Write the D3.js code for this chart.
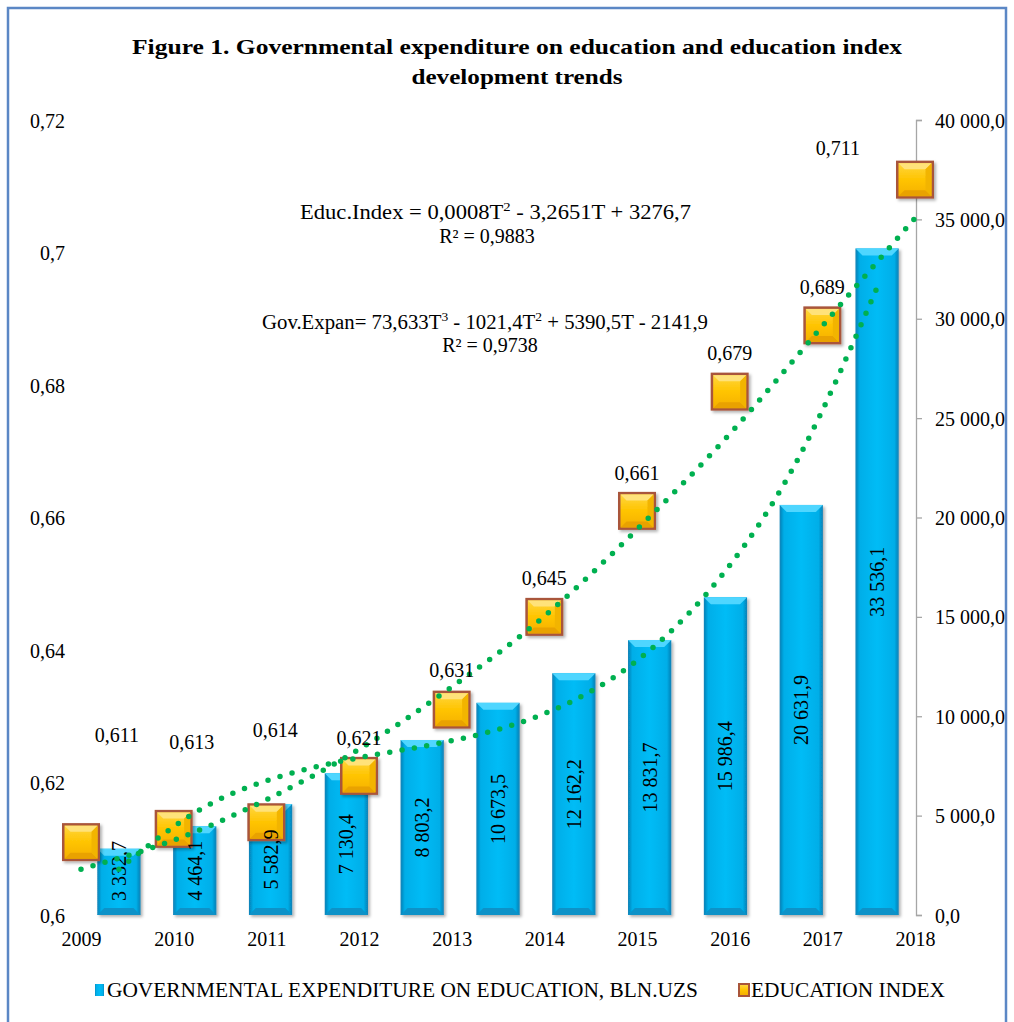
<!DOCTYPE html>
<html>
<head>
<meta charset="utf-8">
<script src="https://cdn.jsdelivr.net/npm/d3@7"></script>
<style>
  body { margin: 0; background: #fff; }
  svg text { font-family: "Liberation Serif", "Times New Roman", serif; fill: #000; }
</style>
</head>
<body>
<svg id="chart" width="1014" height="1022"></svg>
<script>
// === Data ===
const years = [2009, 2010, 2011, 2012, 2013, 2014, 2015, 2016, 2017, 2018];
const educationIndex = [0.611, 0.613, 0.614, 0.621, 0.631, 0.645, 0.661, 0.679, 0.689, 0.711];
// trend line of the index at each year
const indexTrend = [0.6069, 0.6113, 0.6174, 0.6250, 0.6344, 0.6451, 0.6582, 0.6726, 0.6889, 0.7052];

const expPeriods = [1, 2, 3, 4, 5, 6, 7, 8, 9, 10, 11];
const expenditure = [3332.7, 4464.1, 5582.9, 7130.4, 8803.2, 10673.5, 12162.2, 13831.7, 15986.4, 20631.9, 33536.1];
// cubic trend of expenditure (Gov.Expan equation) at each period T
const expTrend = [2300.8, 5142.6, 6825.1, 7790.2, 8479.7, 9335.4, 10799.1, 13312.6, 17317.7, 23256.1, 31569.7];

const leftTicks = [0.6, 0.62, 0.64, 0.66, 0.68, 0.7, 0.72];
const rightTicks = [0, 5000, 10000, 15000, 20000, 25000, 30000, 35000, 40000];

const titleLines = ["Figure 1. Governmental expenditure on education and education index", "development trends"];
const legendLabels = ["GOVERNMENTAL EXPENDITURE ON EDUCATION, BLN.UZS", "EDUCATION INDEX"];

// label nudges (layout only): [dx, dy] from marker centre
const indexLabelNudge = [[36, -107], [18, -87], [9, -92], [0, -38], [0, -40], [0, -39], [0, -38], [0, -39], [0, -38], [-77, -32]];

(function () {
  const svg = d3.select("#chart");
  const serif = '"Liberation Serif", "Times New Roman", serif';
  const plot = { left: 81, right: 915, top: 120, bottom: 915 };

  const loc = d3.formatLocale({ decimal: ",", thousands: " ", grouping: [3], currency: ["", ""] });
  const fmtMoney = loc.format(",.1f");
  const fmtIdx = loc.format(".3f");
  const fmtLeft = loc.format(".2~f");

  const x = d3.scalePoint().domain(years).range([plot.left, plot.right]);
  const xb = d3.scaleBand().domain(expPeriods).range([plot.left, plot.right])
    .paddingInner(0.43).paddingOuter(0.215);
  const yL = d3.scaleLinear().domain([0.6, 0.72]).range([plot.bottom, plot.top]);
  const yR = d3.scaleLinear().domain([0, 40000]).range([plot.bottom, plot.top]);

  // === defs ===
  const defs = svg.append("defs");
  const barGrad = defs.append("linearGradient").attr("id", "barGrad").attr("x1", 0).attr("x2", 1).attr("y1", 0).attr("y2", 0);
  [[0, "#0a7fb4"], [0.1, "#00aee8"], [0.5, "#00bcf6"], [0.9, "#00aee8"], [1, "#0a7fb4"]]
    .forEach(([o, c]) => barGrad.append("stop").attr("offset", o).attr("stop-color", c));
  const goldGrad = defs.append("linearGradient").attr("id", "goldGrad").attr("x1", 0).attr("x2", 0).attr("y1", 0).attr("y2", 1);
  [[0, "#ffd640"], [0.5, "#ffc400"], [1, "#f5b000"]]
    .forEach(([o, c]) => goldGrad.append("stop").attr("offset", o).attr("stop-color", c));
  const shadow = defs.append("filter").attr("id", "shadow").attr("x", "-20%").attr("y", "-20%").attr("width", "150%").attr("height", "150%");
  shadow.append("feDropShadow").attr("dx", 2).attr("dy", 2).attr("stdDeviation", 1.6)
    .attr("flood-color", "#000").attr("flood-opacity", 0.3);

  // === frame ===
  svg.append("rect").attr("x", 8).attr("y", 8).attr("width", 998).attr("height", 1040)
    .attr("fill", "none").attr("stroke", "#5b87c5").attr("stroke-width", 2.5);

  // === title ===
  svg.append("text").attr("x", 517).attr("y", 54).attr("text-anchor", "middle")
    .attr("font-size", 22).attr("font-weight", "bold")
    .attr("textLength", 770).attr("lengthAdjust", "spacingAndGlyphs").text(titleLines[0]);
  svg.append("text").attr("x", 517).attr("y", 84).attr("text-anchor", "middle")
    .attr("font-size", 22).attr("font-weight", "bold")
    .attr("textLength", 211).attr("lengthAdjust", "spacingAndGlyphs").text(titleLines[1]);

  // === axes ===
  const gL = svg.append("g").attr("transform", `translate(${plot.left},0)`)
    .call(d3.axisLeft(yL).tickValues(leftTicks).tickFormat(fmtLeft).tickSize(0).tickPadding(16))
    .attr("font-family", serif).attr("font-size", 20);
  gL.select(".domain").remove();
  gL.selectAll("text").attr("dy", "0.35em");

  const gR = svg.append("g").attr("transform", `translate(916,0)`)
    .call(d3.axisRight(yR).tickValues(rightTicks).tickFormat(fmtMoney).tickSize(6).tickSizeOuter(6).tickPadding(13))
    .attr("font-family", serif).attr("font-size", 20);
  gR.select(".domain").attr("stroke", "#a6a6a6").attr("stroke-width", 1.3);
  gR.selectAll(".tick line").attr("stroke", "#a6a6a6").attr("stroke-width", 1.3);
  gR.selectAll("text").attr("dy", "0.35em");

  const gX = svg.append("g").attr("transform", `translate(0,${plot.bottom})`)
    .call(d3.axisBottom(x).tickSize(0).tickPadding(17))
    .attr("font-family", serif).attr("font-size", 20);
  gX.select(".domain").remove();

  // === bars ===
  const bw = xb.bandwidth();
  const bev = 7;
  const bars = svg.append("g").selectAll("g").data(expenditure).join("g")
    .attr("filter", "url(#shadow)");
  bars.append("rect")
    .attr("x", (d, i) => xb(expPeriods[i]))
    .attr("y", d => yR(d))
    .attr("width", bw)
    .attr("height", d => yR(0) - yR(d))
    .attr("fill", "url(#barGrad)");
  bars.append("polygon")
    .attr("points", (d, i) => {
      const x0 = xb(expPeriods[i]), x1 = x0 + bw, t = yR(d);
      return [[x0, t], [x1, t], [x1 - bev, t + bev], [x0 + bev, t + bev]].join(" ");
    })
    .attr("fill", "#4fd6ff");
  bars.append("polygon")
    .attr("points", (d, i) => {
      const x0 = xb(expPeriods[i]), x1 = x0 + bw, b = yR(0);
      return [[x0, b], [x1, b], [x1 - bev, b - bev], [x0 + bev, b - bev]].join(" ");
    })
    .attr("fill", "#0a92c8");

  // === education index markers ===
  const m = 19, mb = 6;
  const markers = svg.append("g").selectAll("g").data(educationIndex).join("g")
    .attr("transform", (d, i) => `translate(${x(years[i])},${yL(d)})`)
    .attr("filter", "url(#shadow)");
  markers.append("rect").attr("x", -m).attr("y", -m).attr("width", 2 * m).attr("height", 2 * m)
    .attr("fill", "#a9553a");
  const inner = m - 2.5;
  markers.append("rect").attr("x", -inner).attr("y", -inner).attr("width", 2 * inner).attr("height", 2 * inner)
    .attr("fill", "url(#goldGrad)");
  markers.append("polygon")
    .attr("points", [[-inner, -inner], [inner, -inner], [inner - mb, -inner + mb], [-inner + mb, -inner + mb]].join(" "))
    .attr("fill", "#ffe27a");
  markers.append("polygon")
    .attr("points", [[-inner, inner], [inner, inner], [inner - mb, inner - mb], [-inner + mb, inner - mb]].join(" "))
    .attr("fill", "#e9a200");
  markers.append("polygon")
    .attr("points", [[inner, -inner], [inner, inner], [inner - mb, inner - mb], [inner - mb, -inner + mb]].join(" "))
    .attr("fill", "#f2b400");

  // bar value labels (rotated), drawn over the markers
  const barLabels = svg.append("g");
  expenditure.forEach((v, i) => {
    const cx = xb(expPeriods[i]) + bw / 2;
    const t = barLabels.append("text")
      .attr("font-size", 20)
      .attr("text-anchor", "middle")
      .attr("dominant-baseline", "central")
      .text(fmtMoney(v));
    const len = t.node().getComputedTextLength();
    const cy = Math.min((yR(v) + yR(0)) / 2, yR(0) - 14 - len / 2);
    t.attr("transform", `translate(${cx},${cy}) rotate(-90)`);
  });

  // === trend lines ===
  const dotStyle = sel => sel.attr("fill", "none").attr("stroke", "#00b050").attr("stroke-width", 5.5)
    .attr("stroke-linecap", "round").attr("stroke-dasharray", "0 12.5");
  svg.append("path")
    .datum(indexTrend)
    .attr("d", d3.line().x((d, i) => x(years[i])).y(d => yL(d)).curve(d3.curveNatural))
    .call(dotStyle);
  svg.append("path")
    .datum(expTrend)
    .attr("d", d3.line().x((d, i) => xb(expPeriods[i]) + bw / 2).y(d => yR(d)).curve(d3.curveNatural))
    .call(dotStyle);

  // index value labels
  svg.append("g").selectAll("text").data(educationIndex).join("text")
    .attr("x", (d, i) => x(years[i]) + indexLabelNudge[i][0])
    .attr("y", (d, i) => yL(d) + indexLabelNudge[i][1])
    .attr("dy", "0.35em")
    .attr("text-anchor", "middle")
    .attr("font-size", 20)
    .text(d => fmtIdx(d));

  // === trend equations ===
  function equation(xPos, yPos, parts, width) {
    const t = svg.append("text").attr("x", xPos).attr("y", yPos).attr("font-size", 20)
      .attr("textLength", width).attr("lengthAdjust", "spacingAndGlyphs");
    let raised = false;
    parts.forEach(p => {
      if (typeof p === "object") {
        t.append("tspan").attr("font-size", 13).attr("dy", -8).text(p.sup);
        raised = true;
      } else {
        t.append("tspan").attr("dy", raised ? 8 : 0).text(p);
        raised = false;
      }
    });
    return t;
  }
  equation(300, 219, ["Educ.Index  = 0,0008T", { sup: "2" }, " - 3,2651T + 3276,7"], 391);
  svg.append("text").attr("x", 487).attr("y", 243).attr("text-anchor", "middle").attr("font-size", 20).text("R² = 0,9883");
  equation(262, 329, ["Gov.Expan=  73,633T", { sup: "3" }, " - 1021,4T", { sup: "2" }, " + 5390,5T - 2141,9"], 446);
  svg.append("text").attr("x", 490).attr("y", 352).attr("text-anchor", "middle").attr("font-size", 20).text("R² = 0,9738");

  // === legend ===
  const lg = svg.append("g");
  lg.append("rect").attr("x", 95).attr("y", 984).attr("width", 9).attr("height", 12).attr("fill", "url(#barGrad)");
  lg.append("text").attr("x", 107).attr("y", 997).attr("font-size", 21)
    .attr("textLength", 591).attr("lengthAdjust", "spacingAndGlyphs").text(legendLabels[0]);
  lg.append("rect").attr("x", 738).attr("y", 983).attr("width", 12).attr("height", 14).attr("fill", "#a9553a");
  lg.append("rect").attr("x", 740).attr("y", 985).attr("width", 8).attr("height", 10).attr("fill", "url(#goldGrad)");
  lg.append("text").attr("x", 751).attr("y", 997).attr("font-size", 21)
    .attr("textLength", 194).attr("lengthAdjust", "spacingAndGlyphs").text(legendLabels[1]);
})();
</script>
</body>
</html>
